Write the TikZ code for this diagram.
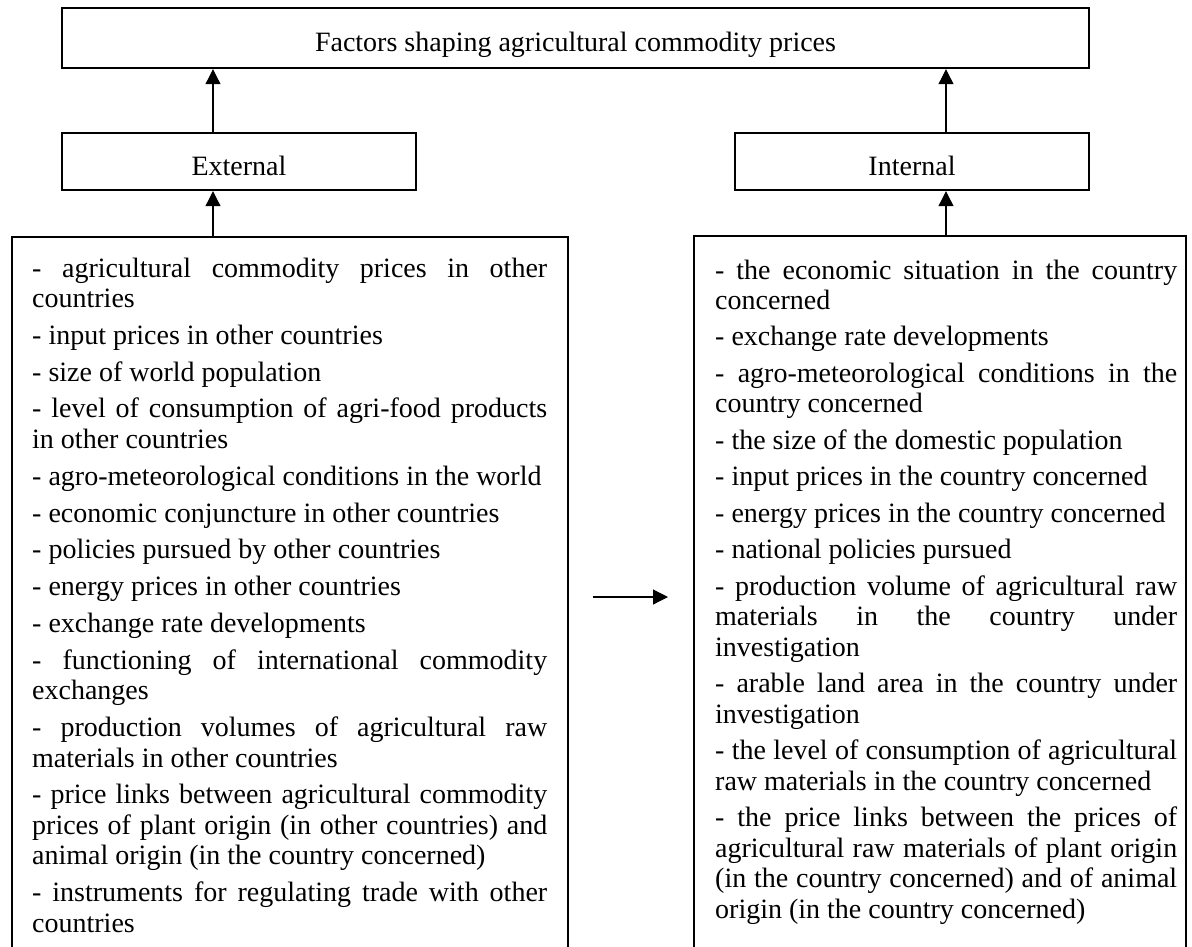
\documentclass[tikz,border=0pt]{standalone}
\usepackage{fontspec}
\setmainfont{Liberation Serif}
\usetikzlibrary{arrows.meta}
\newcommand\bodyfont{\fontsize{28pt}{30.5pt}\selectfont}
\newcommand\jl[1]{\hbox to\linewidth{#1}}
\newcommand\rl[1]{\hbox{#1}}
\newlength\itemgap
\newcommand\nextitem{\vskip\itemgap}
\tikzset{
  box/.style={draw, line width=2.4pt, inner sep=0pt, font=\bodyfont, text height=27pt, text depth=0pt},
  listbox/.style={draw, line width=2.4pt, inner sep=0pt, anchor=north west},
  listtext/.style={anchor=base west, inner sep=0pt, font=\bodyfont},
  arr/.style={-{Triangle[length=15pt,width=15pt]}, line width=1.1pt}
}
\begin{document}
\begin{tikzpicture}[x=1pt, y=-1pt]
\useasboundingbox (0,0) rectangle (1192,946);
\clip (0,0) rectangle (1192,946);
\fill[white] (0,0) rectangle (1192,946);

\node[box, minimum width=1027pt, minimum height=60pt] (top) at (575.5,38) {Factors shaping agricultural commodity prices};
\node[box, minimum width=354pt, minimum height=57pt] (ext) at (239,161.5) {External};
\node[box, minimum width=354pt, minimum height=57pt] (int) at (912,161.5) {Internal};

\node[listbox, minimum width=556pt, minimum height=730pt] (lbox) at (11,236) {};
\node[listbox, minimum width=492pt, minimum height=730pt] (rbox) at (693,235) {};

\node[listtext] (ltext) at (32,277) {\begin{minipage}[t]{515pt}\baselineskip=30.5pt\lineskiplimit=-100pt\setlength\itemgap{6.3pt}%
\jl{- agricultural commodity prices in other}
\rl{countries}\nextitem
\rl{- input prices in other countries}\nextitem
\rl{- size of world population}\nextitem
\jl{- level of consumption of agri-food products}
\rl{in other countries}\nextitem
\rl{- agro-meteorological conditions in the world}\nextitem
\rl{- economic conjuncture in other countries}\nextitem
\rl{- policies pursued by other countries}\nextitem
\rl{- energy prices in other countries}\nextitem
\rl{- exchange rate developments}\nextitem
\jl{- functioning of international commodity}
\rl{exchanges}\nextitem
\jl{- production volumes of agricultural raw}
\rl{materials in other countries}\nextitem
\jl{- price links between agricultural commodity}
\jl{prices of plant origin (in other countries) and}
\rl{animal origin (in the country concerned)}\nextitem
\jl{- instruments for regulating trade with other}
\rl{countries}
\end{minipage}};

\node[listtext] (rtext) at (715,279) {\begin{minipage}[t]{462pt}\baselineskip=30.5pt\lineskiplimit=-100pt\setlength\itemgap{5.95pt}%
\jl{- the economic situation in the country}
\rl{concerned}\nextitem
\rl{- exchange rate developments}\nextitem
\jl{- agro-meteorological conditions in the}
\rl{country concerned}\nextitem
\rl{- the size of the domestic population}\nextitem
\rl{- input prices in the country concerned}\nextitem
\rl{- energy prices in the country concerned}\nextitem
\rl{- national policies pursued}\nextitem
\jl{- production volume of agricultural raw}
\jl{materials in the country under}
\rl{investigation}\nextitem
\jl{- arable land area in the country under}
\rl{investigation}\nextitem
\jl{- the level of consumption of agricultural}
\rl{raw materials in the country concerned}\nextitem
\jl{- the price links between the prices of}
\jl{agricultural raw materials of plant origin}
\jl{(in the country concerned) and of animal}
\rl{origin (in the country concerned)}
\end{minipage}};

\coordinate (ax) at (213,0);
\coordinate (bx) at (946,0);
\draw[arr] (ax |- lbox.north) -- (ax |- ext.south);
\draw[arr] (ax |- ext.north) -- (ax |- top.south);
\draw[arr] (bx |- rbox.north) -- (bx |- int.south);
\draw[arr] (bx |- int.north) -- (bx |- top.south);
\coordinate (ma) at (593,597);
\coordinate (mb) at (668,597);
\draw[arr] (ma) -- (mb);
\end{tikzpicture}
\end{document}
